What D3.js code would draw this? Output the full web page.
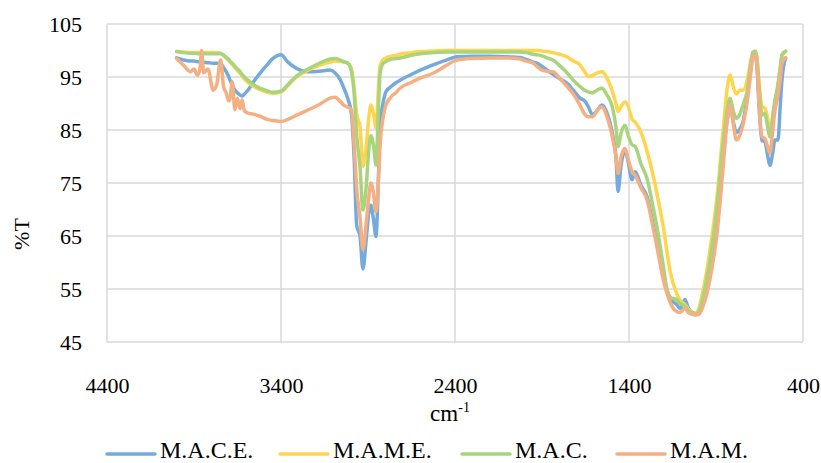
<!DOCTYPE html>
<html>
<head>
<meta charset="utf-8">
<script src="https://cdn.jsdelivr.net/npm/d3@7"></script>
</head>
<body style="margin:0">
<svg id="fig" width="821" height="463"></svg>
<script>
// wavenumber (cm-1), shared by all four spectra
const wavenumbers = [
  4000, 3960, 3920, 3900, 3880, 3865, 3856, 3845, 3820, 3790,
  3770, 3747, 3730, 3715, 3700, 3693, 3680, 3665, 3650, 3635,
  3624, 3610, 3590, 3560, 3521, 3480, 3446, 3400, 3360, 3310,
  3250, 3180, 3118, 3090, 3060, 3040, 3015, 2995, 2980, 2965,
  2946, 2929, 2910, 2895, 2883, 2868, 2854, 2840, 2831, 2815,
  2797, 2774, 2735, 2716, 2650, 2600, 2526, 2450, 2389, 2300,
  2200, 2100, 2026, 1990, 1950, 1929, 1900, 1871, 1837, 1800,
  1756, 1720, 1682, 1655, 1634, 1610, 1580, 1555, 1530, 1492,
  1475, 1463, 1445, 1423, 1405, 1382, 1365, 1330, 1297, 1260,
  1239, 1203, 1182, 1164, 1124, 1107, 1078, 1060, 1032, 1015,
  999, 974, 955, 934, 894, 859, 835, 819, 800, 783,
  763, 745, 720, 700, 688, 675, 665, 650, 636, 619,
  605, 590, 575, 561, 544, 530, 521, 500
];

const mace = [
  98.6, 98.2, 98.0, 98.0, 97.9, 97.9, 97.8, 97.8, 97.7, 97.6,
  97.6, 97.5, 96.8, 96.0, 95.0, 94.4, 93.5, 92.5, 92.0, 91.6,
  91.4, 91.8, 92.5, 94.0, 95.7, 97.3, 98.5, 99.2, 97.8, 96.6,
  96.0, 96.1, 96.3, 95.8, 94.5, 93.0, 90.8, 88.0, 80.0, 67.0,
  65.0, 58.8, 64.5, 69.5, 70.8, 68.0, 64.9, 76.0, 86.0, 89.8,
  92.2, 93.0, 94.0, 94.4, 95.5, 96.3, 97.3, 98.2, 98.8, 98.9,
  98.9, 98.8, 98.7, 98.3, 97.8, 97.6, 97.0, 96.3, 95.5, 94.7,
  93.8, 92.5, 91.0, 90.5, 89.4, 87.9, 88.8, 89.7, 88.5, 83.7,
  80.0, 73.4, 78.5, 81.2, 79.0, 75.6, 77.1, 74.5, 72.5, 67.0,
  63.5, 57.5, 54.8, 53.3, 52.0, 51.3, 53.0, 51.5, 50.4, 50.2,
  50.5, 52.5, 55.0, 59.0, 68.0, 80.5, 87.0, 89.5, 86.5, 84.5,
  85.2, 86.5, 91.5, 96.5, 99.2, 99.4, 97.0, 88.0, 83.0, 82.8,
  80.5, 78.3, 80.5, 83.1, 83.1, 90.0, 94.4, 98.6
];

const mame = [
  99.8, 99.7, 99.6, 99.6, 99.6, 99.6, 99.6, 99.6, 99.6, 99.6,
  99.6, 99.5, 99.1, 98.6, 98.1, 97.8, 97.3, 96.8, 96.2, 95.7,
  95.2, 94.6, 94.0, 93.3, 92.6, 92.1, 91.9, 92.2, 93.4, 95.0,
  96.2, 97.2, 97.8, 98.0, 97.9, 97.8, 97.6, 96.5, 93.0, 88.0,
  85.6, 78.1, 82.0, 87.5, 89.7, 88.0, 85.4, 93.0, 97.0, 98.2,
  98.6, 98.9, 99.1, 99.3, 99.6, 99.8, 99.9, 100.0, 100.0, 100.0,
  100.0, 100.0, 100.0, 100.0, 100.0, 100.0, 99.9, 99.8, 99.6, 99.3,
  98.8, 98.0, 97.3, 96.0, 95.1, 95.3, 95.8, 96.0, 95.0, 91.9,
  90.0, 88.5, 89.5, 90.3, 89.5, 87.0, 86.5, 84.5, 81.1, 76.2,
  72.9, 66.7, 62.1, 58.4, 54.0, 52.9, 52.0, 51.2, 50.6, 50.4,
  51.3, 54.8, 58.0, 62.5, 72.5, 85.0, 93.0, 95.4, 93.0, 91.8,
  92.5, 92.5, 94.5, 98.0, 99.6, 99.6, 98.5, 93.0, 89.4, 89.1,
  87.5, 85.0, 86.5, 90.0, 93.5, 97.0, 98.8, 99.8
];

const mac = [
  99.8, 99.6, 99.5, 99.5, 99.4, 99.4, 99.4, 99.4, 99.4, 99.4,
  99.4, 99.4, 99.1, 98.7, 98.3, 98.0, 97.6, 97.0, 96.5, 96.0,
  95.5, 95.0, 94.4, 93.6, 92.9, 92.4, 92.1, 92.3, 93.6, 95.2,
  96.4, 97.6, 98.4, 98.5, 98.2, 97.9, 97.6, 96.0, 92.0, 84.0,
  78.0, 69.9, 74.5, 81.5, 83.9, 82.0, 78.4, 89.0, 95.5, 97.5,
  97.9, 98.3, 98.5, 98.6, 99.1, 99.4, 99.6, 99.7, 99.7, 99.7,
  99.7, 99.7, 99.7, 99.6, 99.3, 99.2, 99.0, 98.6, 98.2, 97.2,
  95.8, 94.4, 93.2, 92.5, 92.2, 92.0, 92.6, 92.9, 91.8, 88.8,
  85.5, 81.9, 84.5, 85.9, 84.0, 82.2, 81.9, 78.5, 75.9, 70.2,
  66.6, 59.4, 55.0, 53.5, 52.9, 52.3, 51.7, 51.0, 50.5, 50.3,
  50.8, 53.5, 56.5, 60.5, 70.5, 82.5, 89.0, 91.0, 88.5, 87.2,
  88.0, 89.7, 92.5, 97.5, 99.7, 99.9, 98.8, 92.0, 87.8, 88.1,
  86.0, 83.7, 87.5, 90.7, 93.5, 97.0, 99.2, 99.9
];

const mam = [
  98.5, 97.2, 96.0, 96.5, 95.3, 96.8, 100.0, 95.8, 96.5, 92.5,
  93.5, 98.2, 93.2, 92.0, 90.5, 91.0, 94.1, 88.8, 91.0, 89.0,
  90.7, 88.6, 88.2, 88.0, 87.6, 87.0, 86.8, 86.6, 87.0, 87.8,
  88.7, 89.8, 91.0, 91.2, 90.4, 89.7, 89.3, 88.8, 82.5, 74.0,
  68.5, 62.5, 67.5, 72.5, 75.0, 73.0, 69.6, 75.5, 81.9, 87.0,
  89.7, 91.0, 92.2, 92.9, 94.0, 94.8, 95.7, 97.2, 98.2, 98.5,
  98.6, 98.6, 98.4, 98.0, 97.6, 97.0, 96.3, 96.1, 96.0, 94.8,
  93.2, 91.8, 89.7, 88.0, 87.5, 87.5, 88.8, 89.4, 87.8, 83.1,
  80.0, 76.8, 80.0, 81.5, 79.5, 77.1, 76.5, 74.0, 71.9, 66.3,
  62.9, 56.7, 54.2, 52.5, 50.7, 50.6, 51.3, 50.6, 50.2, 50.1,
  50.2, 51.8, 53.8, 57.0, 65.5, 78.0, 87.0, 89.7, 86.0, 83.1,
  84.0, 86.0, 90.5, 95.8, 99.0, 99.2, 97.5, 88.5, 83.7, 83.4,
  82.0, 80.6, 84.5, 88.8, 91.5, 95.0, 97.6, 98.6
];

const seriesNames = ["M.A.C.E.", "M.A.M.E.", "M.A.C.", "M.A.M."];
const seriesColors = ["#75aadd", "#ffd54d", "#a8d47e", "#f4b083"];
const xTicks = [4400, 3400, 2400, 1400, 400];
const yTicks = [45, 55, 65, 75, 85, 95, 105];

const FONT = '"Liberation Serif"';

const series = [mace, mame, mac, mam].map((vals, i) => ({
    name: seriesNames[i],
    color: seriesColors[i],
    points: wavenumbers.map((w, j) => [w, vals[j]])
}));

const margin = { left: 107, top: 24, right: 18, bottom: 121 };
const width = 821 - margin.left - margin.right;
const height = 463 - margin.top - margin.bottom;

const svg = d3.select("#fig");
const g = svg.append("g").attr("transform", `translate(${margin.left},${margin.top})`);

const x = d3.scaleLinear().domain([4400, 400]).range([0, width]);
const y = d3.scaleLinear().domain([45, 105]).range([height, 0]);

// gridlines
g.append("g")
    .selectAll("line")
    .data(yTicks)
    .join("line")
    .attr("x1", 0).attr("x2", width)
    .attr("y1", d => y(d)).attr("y2", d => y(d))
    .attr("stroke", "#d9d9d9").attr("stroke-width", 1.5);
g.append("g")
    .selectAll("line")
    .data(xTicks)
    .join("line")
    .attr("y1", 0).attr("y2", height)
    .attr("x1", d => x(d)).attr("x2", d => x(d))
    .attr("stroke", "#d9d9d9").attr("stroke-width", 1.5);

// tick labels
const xAxis = g.append("g")
    .attr("transform", `translate(0,${height})`)
    .call(d3.axisBottom(x).tickValues(xTicks).tickSize(0).tickPadding(35).tickFormat(d3.format("d")));
const yAxis = g.append("g")
    .call(d3.axisLeft(y).tickValues(yTicks).tickSize(0).tickPadding(25).tickFormat(d3.format("d")));
[xAxis, yAxis].forEach(a => {
    a.attr("font-family", null).attr("font-size", null);
    a.select(".domain").remove();
    a.selectAll("text")
        .style("font-family", FONT)
        .style("font-size", "22px")
        .attr("fill", "#000");
});

// spectra
const line = d3.line()
    .x(d => x(d[0]))
    .y(d => y(d[1]))
    .curve(d3.curveMonotoneX);

g.selectAll("path.spectrum")
    .data(series)
    .join("path")
    .attr("class", "spectrum")
    .attr("fill", "none")
    .attr("stroke", d => d.color)
    .attr("stroke-width", 3.5)
    .attr("stroke-linejoin", "round")
    .attr("stroke-linecap", "round")
    .attr("d", d => line(d.points));

// axis titles
const xTitle = svg.append("text")
    .attr("x", 450).attr("y", 421)
    .attr("text-anchor", "middle")
    .style("font-family", FONT)
    .style("font-size", "23px");
xTitle.append("tspan").text("cm");
xTitle.append("tspan").style("font-size", "14px").attr("dy", -9).text("-1");

svg.append("text")
    .attr("transform", "translate(29,234) rotate(-90)")
    .attr("text-anchor", "middle")
    .style("font-family", FONT)
    .style("font-size", "22px")
    .text("%T");

// legend
const legendX = [107, 280, 462, 617];
const ly = 454;
const legend = svg.append("g")
    .selectAll("g")
    .data(series)
    .join("g")
    .attr("transform", (d, i) => `translate(${legendX[i]},${ly})`);
legend.append("line")
    .attr("x1", 0).attr("x2", 48)
    .attr("stroke", d => d.color).attr("stroke-width", 3.5)
    .attr("stroke-linecap", "round");
legend.append("text")
    .attr("x", 53).attr("y", 4)
    .style("font-family", FONT)
    .style("font-size", "24px")
    .text(d => d.name);
</script>
</body>
</html>
